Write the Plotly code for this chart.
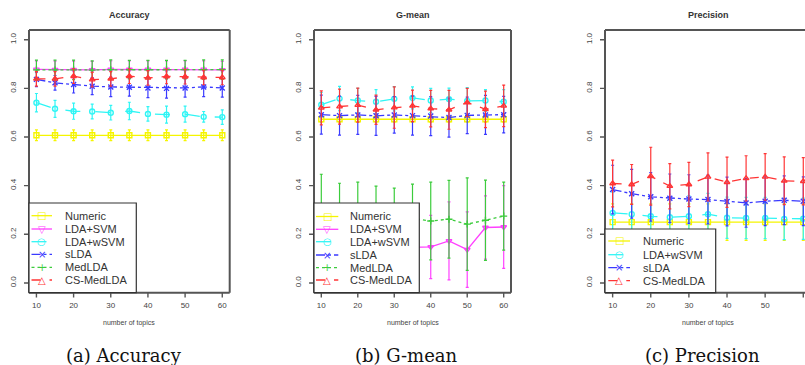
import plotly.graph_objects as go

W, H = 805, 365

topics = [10, 15, 20, 25, 30, 35, 40, 45, 50, 55, 60]

# ---- Accuracy ----
acc_numeric = [0.607, 0.607, 0.607, 0.607, 0.607, 0.607, 0.607, 0.607, 0.607, 0.607, 0.607]
acc_numeric_err = [0.022, 0.022, 0.022, 0.022, 0.022, 0.022, 0.022, 0.022, 0.022, 0.022, 0.022]
acc_ldasvm = [0.878, 0.877, 0.877, 0.876, 0.878, 0.878, 0.878, 0.878, 0.878, 0.878, 0.876]
acc_ldasvm_err = [0.035, 0.035, 0.035, 0.035, 0.035, 0.035, 0.035, 0.035, 0.035, 0.035, 0.035]
acc_ldawsvm = [0.741, 0.716, 0.706, 0.705, 0.700, 0.707, 0.695, 0.692, 0.694, 0.683, 0.682]
acc_ldawsvm_err = [0.038, 0.035, 0.033, 0.030, 0.030, 0.036, 0.030, 0.035, 0.033, 0.022, 0.030]
acc_slda = [0.837, 0.823, 0.816, 0.809, 0.806, 0.805, 0.802, 0.800, 0.802, 0.806, 0.802]
acc_slda_err = [0.030, 0.030, 0.035, 0.035, 0.040, 0.037, 0.040, 0.040, 0.038, 0.040, 0.038]
acc_medlda = [0.876, 0.876, 0.876, 0.875, 0.877, 0.877, 0.877, 0.877, 0.877, 0.877, 0.877]
acc_medlda_err = [0.040, 0.040, 0.040, 0.038, 0.040, 0.038, 0.038, 0.038, 0.038, 0.040, 0.040]
acc_csmedlda = [0.839, 0.839, 0.850, 0.836, 0.839, 0.850, 0.843, 0.849, 0.848, 0.845, 0.845]
acc_csmedlda_err = [0.030, 0.030, 0.030, 0.030, 0.030, 0.030, 0.030, 0.030, 0.030, 0.030, 0.030]

# ---- G-mean ----
gm_numeric = [0.673, 0.673, 0.673, 0.673, 0.673, 0.673, 0.673, 0.673, 0.673, 0.673, 0.673]
gm_numeric_err = [0.012, 0.012, 0.012, 0.012, 0.012, 0.012, 0.012, 0.012, 0.012, 0.012, 0.012]
gm_ldasvm = [0.140, 0.150, 0.140, 0.150, 0.140, 0.146, 0.148, 0.173, 0.137, 0.228, 0.230]
gm_ldasvm_err = [0.120, 0.120, 0.120, 0.120, 0.120, 0.130, 0.130, 0.160, 0.155, 0.130, 0.170]
gm_ldawsvm = [0.733, 0.758, 0.750, 0.745, 0.757, 0.761, 0.750, 0.756, 0.748, 0.750, 0.745]
gm_ldawsvm_err = [0.050, 0.050, 0.050, 0.050, 0.050, 0.045, 0.050, 0.045, 0.055, 0.045, 0.050]
gm_slda = [0.692, 0.688, 0.691, 0.687, 0.691, 0.688, 0.686, 0.680, 0.689, 0.691, 0.692]
gm_slda_err = [0.080, 0.080, 0.080, 0.080, 0.075, 0.080, 0.080, 0.080, 0.075, 0.080, 0.075]
gm_medlda = [0.280, 0.270, 0.270, 0.265, 0.260, 0.265, 0.255, 0.262, 0.242, 0.258, 0.275]
gm_medlda_err = [0.167, 0.140, 0.145, 0.133, 0.130, 0.141, 0.160, 0.160, 0.190, 0.165, 0.140]
gm_csmedlda = [0.720, 0.725, 0.731, 0.712, 0.721, 0.728, 0.717, 0.712, 0.742, 0.714, 0.728]
gm_csmedlda_err = [0.070, 0.072, 0.070, 0.060, 0.085, 0.065, 0.075, 0.080, 0.058, 0.075, 0.085]

# ---- Precision ----
pr_numeric = [0.250, 0.250, 0.250, 0.250, 0.250, 0.250, 0.250, 0.250, 0.250, 0.250, 0.250]
pr_numeric_err = [0.075, 0.075, 0.075, 0.075, 0.075, 0.075, 0.075, 0.075, 0.075, 0.075, 0.075]
pr_ldawsvm = [0.288, 0.283, 0.274, 0.270, 0.274, 0.283, 0.268, 0.267, 0.267, 0.263, 0.264]
pr_ldawsvm_err = [0.085, 0.085, 0.085, 0.085, 0.085, 0.085, 0.085, 0.085, 0.085, 0.085, 0.085]
pr_slda = [0.384, 0.367, 0.354, 0.348, 0.345, 0.343, 0.335, 0.329, 0.336, 0.340, 0.336]
pr_slda_err = [0.100, 0.100, 0.100, 0.100, 0.100, 0.100, 0.100, 0.100, 0.100, 0.100, 0.100]
pr_csmedlda = [0.409, 0.405, 0.439, 0.398, 0.405, 0.436, 0.414, 0.430, 0.436, 0.420, 0.418]
pr_csmedlda_err = [0.096, 0.082, 0.119, 0.093, 0.091, 0.099, 0.103, 0.093, 0.096, 0.098, 0.097]

panel_titles = ["Accuracy", "G-mean", "Precision"]
captions = ["(a) Accuracy", "(b) G-mean", "(c) Precision"]
x_title = "number of topics"
x_ticks = [10, 20, 30, 40, 50, 60]
y_ticks = [0.0, 0.2, 0.4, 0.6, 0.8, 1.0]

STYLE = {
    "Numeric":   dict(color="#f5f500", dash="solid", symbol="square-open", glyph="□"),
    "LDA+SVM":   dict(color="#ff40ff", dash="solid", symbol="triangle-down-open", glyph="▽"),
    "LDA+wSVM":  dict(color="#30f5f5", dash="longdash", symbol="circle-open", glyph="○"),
    "sLDA":      dict(color="#3a3aff", dash="dashdot", symbol="x-thin-open", glyph="×"),
    "MedLDA":    dict(color="#3ccc3c", dash="dot", symbol="cross-thin-open", glyph="+"),
    "CS-MedLDA": dict(color="#ff3535", dash="dash", symbol="triangle-up-open", glyph="△"),
}

panels = [
    [("Numeric", acc_numeric, acc_numeric_err), ("LDA+SVM", acc_ldasvm, acc_ldasvm_err),
     ("LDA+wSVM", acc_ldawsvm, acc_ldawsvm_err), ("sLDA", acc_slda, acc_slda_err),
     ("MedLDA", acc_medlda, acc_medlda_err), ("CS-MedLDA", acc_csmedlda, acc_csmedlda_err)],
    [("Numeric", gm_numeric, gm_numeric_err), ("LDA+SVM", gm_ldasvm, gm_ldasvm_err),
     ("LDA+wSVM", gm_ldawsvm, gm_ldawsvm_err), ("sLDA", gm_slda, gm_slda_err),
     ("MedLDA", gm_medlda, gm_medlda_err), ("CS-MedLDA", gm_csmedlda, gm_csmedlda_err)],
    [("Numeric", pr_numeric, pr_numeric_err), ("LDA+wSVM", pr_ldawsvm, pr_ldawsvm_err),
     ("sLDA", pr_slda, pr_slda_err), ("CS-MedLDA", pr_csmedlda, pr_csmedlda_err)],
]

def px(x):
    return x / W

def py(y):
    return 1 - y / H

# pixel layout of each panel box (left, right) and shared top/bottom
boxes = [(29, 229.7), (314, 511), (605, 811)]
box_top, box_bottom = 30, 292.7
x_ranges = [[8, 62], [8, 62], [8, 60.45]]
cap_centers = [124, 406, 702]

# legend layout: (box left, box right, box top, line x0, line x1, text x, entry ys)
legends = [
    (29, 136.3, 203, 31.5, 52, 63, [215.7, 229.0, 241.7, 254.3, 267.3, 280.0]),
    (314, 419.3, 203, 316, 338.3, 348.3, [216.5, 229.3, 241.7, 255.0, 267.7, 280.0]),
    (605, 715.7, 229, 608.3, 630, 641, [241.0, 254.7, 267.7, 280.7]),
]

FRAME = "#555555"

fig = go.Figure()
shapes = []
annotations = []

def note(text, x, y, size, family, color, xanchor="center"):
    annotations.append(dict(text=text, x=px(x), y=py(y), xref="paper", yref="paper",
                            xanchor=xanchor, yanchor="middle", showarrow=False,
                            font=dict(family=family, size=size, color=color)))

def seg(x0, y0, x1, y1, xref="paper", yref="paper", color=FRAME, width=2, dash="solid"):
    shapes.append(dict(type="line", xref=xref, yref=yref, layer="above",
                       x0=x0, x1=x1, y0=y0, y1=y1,
                       line=dict(color=color, width=width, dash=dash)))

for i, series in enumerate(panels):
    n = "" if i == 0 else str(i + 1)
    for name, vals, errs in series:
        st = STYLE[name]
        fig.add_trace(go.Scatter(
            x=topics, y=vals, name=name, mode="lines+markers",
            xaxis="x" + n, yaxis="y" + n, showlegend=False,
            line=dict(color=st["color"], width=1.3, dash=st["dash"]),
            marker=dict(symbol=st["symbol"], size=5, color=st["color"],
                        line=dict(color=st["color"], width=1.4)),
            error_y=dict(type="data", array=errs, visible=True,
                         color=st["color"], thickness=1.2, width=1.5),
        ))
    l, r = boxes[i]
    fig.update_layout(**{
        "xaxis" + n: dict(
            domain=[px(l), min(px(r), 1.0)], range=x_ranges[i], anchor="y" + n,
            tickvals=x_ticks, ticks="", ticklabelstandoff=6,
            showline=False, showgrid=False, zeroline=False,
            tickfont=dict(family="Liberation Sans", size=8, color="#444"),
        ),
        "yaxis" + n: dict(
            domain=[py(box_bottom), py(box_top)], range=[-0.04, 1.04], anchor="x" + n,
            tickvals=y_ticks, tickformat=".1f", ticks="", tickangle=-90,
            ticklabelstandoff=10,
            showline=False, showgrid=False, zeroline=False,
            tickfont=dict(family="Liberation Sans", size=8, color="#444"),
        ),
    })
    # plot frame (R box) as four segments
    xr = min(r, W + 5)
    seg(px(l), py(box_top), px(xr), py(box_top))
    seg(px(l), py(box_bottom), px(xr), py(box_bottom))
    seg(px(l), py(box_top), px(l), py(box_bottom))
    if i < 2:
        seg(px(r), py(box_top), px(r), py(box_bottom))
    # tick marks placed through the panel's own axes
    for t in x_ticks:
        seg(t, 0, t, -0.018, xref="x" + n, yref="y" + n + " domain", width=1.4)
    for t in y_ticks:
        seg(0, t, -0.025, t, xref="x" + n + " domain", yref="y" + n, width=1.4)

    cx = (l + r) / 2
    note("<b>" + panel_titles[i] + "</b>", cx, 15, 9, "Liberation Sans", "#333")
    note(x_title, cx, 323, 7, "Liberation Sans", "#444")
    note(captions[i], cap_centers[i], 355, 18, "DejaVu Serif", "#111")

    # custom legend box
    bl, br, bt, lx0, lx1, tx, ys = legends[i]
    shapes.append(dict(type="rect", xref="paper", yref="paper", layer="above",
                       x0=px(bl), x1=px(br), y0=py(box_bottom), y1=py(bt),
                       fillcolor="white", line=dict(color="#333", width=1.2)))
    for (name, _, _), yy in zip(series, ys):
        st = STYLE[name]
        seg(px(lx0), py(yy), px(lx1), py(yy), color=st["color"], width=1.3, dash=st["dash"])
        note(st["glyph"], (lx0 + lx1) / 2, yy, 10, "DejaVu Sans", st["color"])
        note(name, tx, yy, 11, "Liberation Sans", "#333", xanchor="left")

fig.update_layout(
    width=W, height=H, margin=dict(l=0, r=0, t=0, b=0),
    paper_bgcolor="white", plot_bgcolor="white",
    showlegend=False, shapes=shapes, annotations=annotations,
)

fig.write_html("out.html", config={"displayModeBar": False},
               post_script="document.body.style.margin='0';document.body.style.overflow='hidden';")
